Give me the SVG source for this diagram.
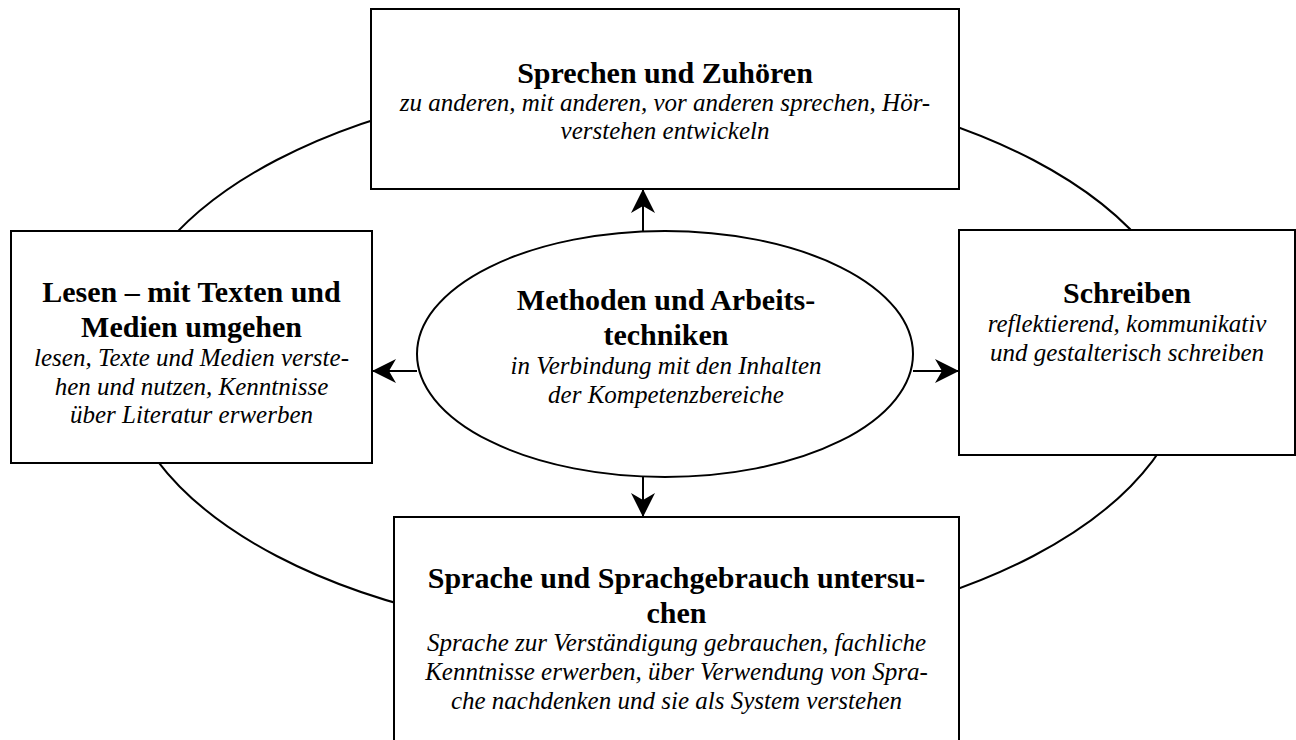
<svg xmlns="http://www.w3.org/2000/svg" width="1296" height="740" viewBox="0 0 1296 740">
<defs>
<style>
.box{fill:#fff;stroke:#000;stroke-width:2}
.ell{fill:#fff;stroke:#000;stroke-width:2}
.ring{fill:none;stroke:#000;stroke-width:2}
.con{stroke:#000;stroke-width:2;fill:none}
.t{font-family:"Liberation Serif","Times New Roman",serif;font-weight:bold;font-size:30px;text-anchor:middle;fill:#000}
.i{font-family:"Liberation Serif","Times New Roman",serif;font-style:italic;font-size:25px;text-anchor:middle;fill:#000}
</style>
<marker id="ah" markerUnits="userSpaceOnUse" markerWidth="26" markerHeight="26" viewBox="-25 -13 26 26" refX="0" refY="0" orient="auto">
<path d="M0,0 L-24,-12 L-17,0 L-24,12 Z" fill="#000"/>
</marker>
</defs>
<rect width="1296" height="740" fill="#fff"/>
<ellipse class="ring" cx="655" cy="358" rx="535" ry="280"/>
<g id="sprechen">
<rect class="box" x="371" y="9" width="588" height="180"/>
<text class="t" x="665" y="83">Sprechen und Zuhören</text>
<text class="i" x="665" y="111">zu anderen, mit anderen, vor anderen sprechen, Hör-</text>
<text class="i" x="665" y="139">verstehen entwickeln</text>
</g>
<g id="lesen">
<rect class="box" x="11" y="231" width="361" height="232"/>
<text class="t" x="191.5" y="302">Lesen – mit Texten und</text>
<text class="t" x="191.5" y="337">Medien umgehen</text>
<text class="i" x="191.5" y="366">lesen, Texte und Medien verste-</text>
<text class="i" x="191.5" y="394.5">hen und nutzen, Kenntnisse</text>
<text class="i" x="191.5" y="423">über Literatur erwerben</text>
</g>
<g id="schreiben">
<rect class="box" x="959" y="230" width="336" height="225"/>
<text class="t" x="1127" y="303">Schreiben</text>
<text class="i" x="1127" y="332">reflektierend, kommunikativ</text>
<text class="i" x="1127" y="360.5">und gestalterisch schreiben</text>
</g>
<g id="sprache">
<rect class="box" x="394" y="517" width="565" height="240"/>
<text class="t" x="676.5" y="588">Sprache und Sprachgebrauch untersu-</text>
<text class="t" x="676.5" y="622.5">chen</text>
<text class="i" x="676.5" y="651">Sprache zur Verständigung gebrauchen, fachliche</text>
<text class="i" x="676.5" y="680">Kenntnisse erwerben, über Verwendung von Spra-</text>
<text class="i" x="676.5" y="709">che nachdenken und sie als System verstehen</text>
</g>
<g id="methoden">
<ellipse class="ell" cx="665" cy="354" rx="248" ry="123"/>
<text class="t" x="666" y="310">Methoden und Arbeits-</text>
<text class="t" x="666" y="345">techniken</text>
<text class="i" x="666" y="374">in Verbindung mit den Inhalten</text>
<text class="i" x="666" y="403">der Kompetenzbereiche</text>
</g>
<g id="connectors">
<line class="con" x1="643" y1="231" x2="643" y2="189" marker-end="url(#ah)"/>
<line class="con" x1="417" y1="371" x2="372" y2="371" marker-end="url(#ah)"/>
<line class="con" x1="913" y1="371" x2="959" y2="371" marker-end="url(#ah)"/>
<line class="con" x1="643" y1="477" x2="643" y2="517" marker-end="url(#ah)"/>
</g>
</svg>
